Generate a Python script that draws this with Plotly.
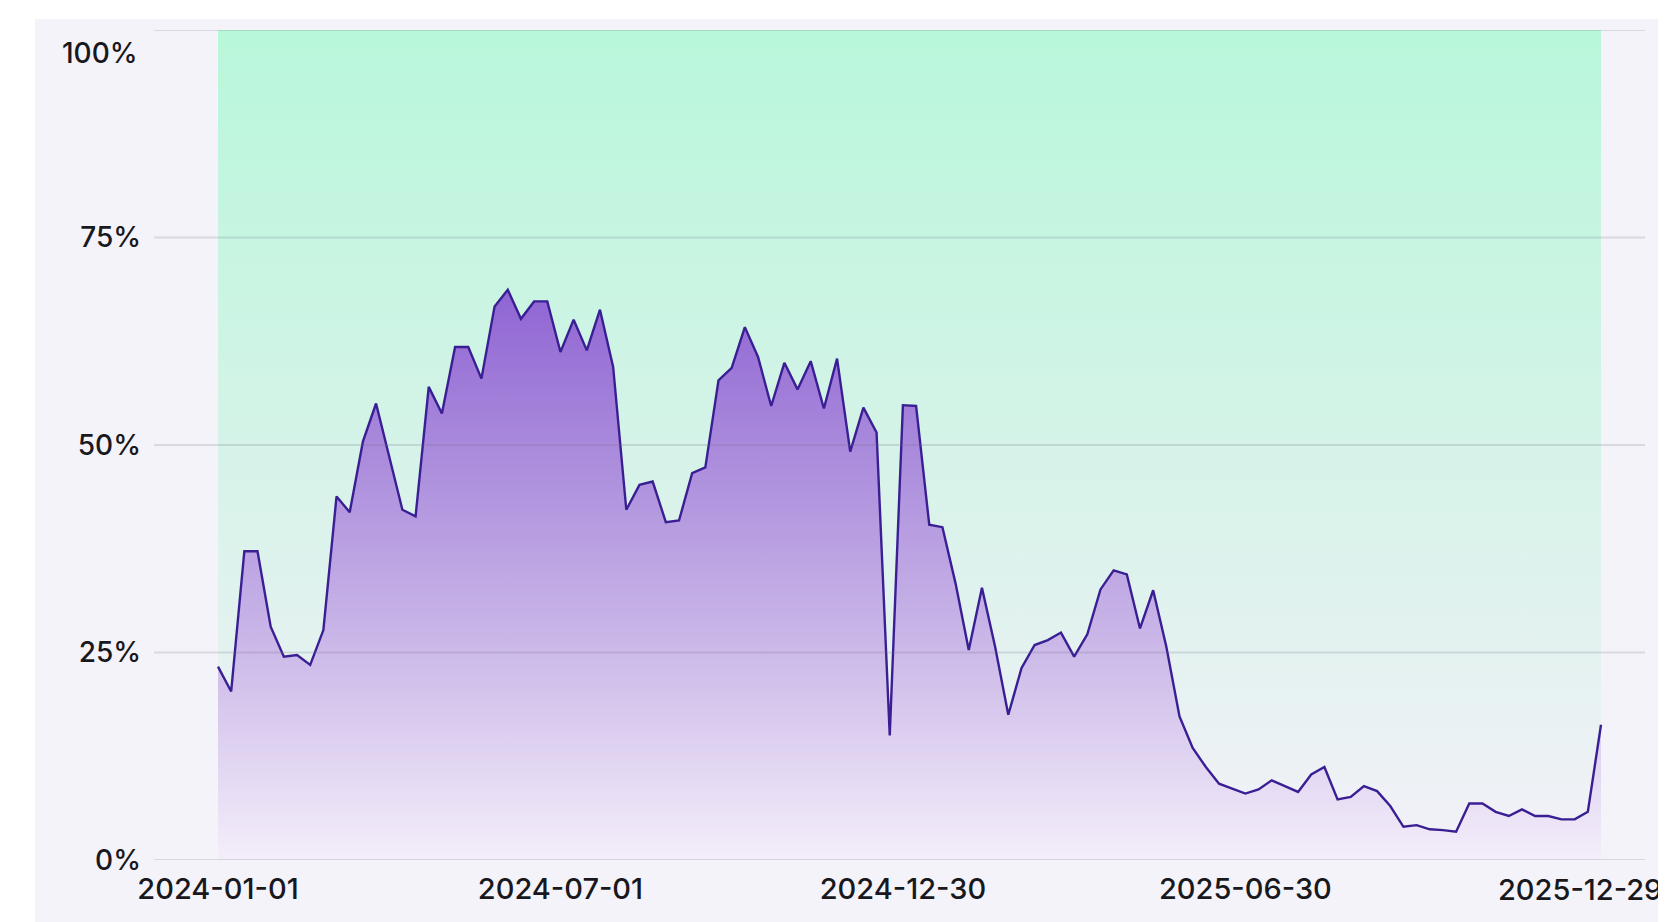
import pandas as pd
import plotly.graph_objects as go

# ---- data (weekly share, %) ----
start_date = "2024-01-01"
share_pct = [
    23.3, 20.3, 37.2, 37.2, 28.1, 24.5, 24.7, 23.5, 27.7, 43.8,
    41.9, 50.4, 55.0, 48.6, 42.2, 41.4, 57.0, 53.8, 61.8, 61.8,
    58.0, 66.7, 68.7, 65.2, 67.3, 67.3, 61.2, 65.1, 61.4, 66.3,
    59.4, 42.2, 45.2, 45.6, 40.7, 40.9, 46.6, 47.3, 57.8, 59.3,
    64.2, 60.6, 54.7, 59.9, 56.7, 60.1, 54.4, 60.4, 49.2, 54.5,
    51.5, 15.0, 54.8, 54.7, 40.4, 40.1, 33.3, 25.3, 32.8, 25.7,
    17.5, 23.1, 25.9, 26.5, 27.4, 24.5, 27.2, 32.6, 34.9, 34.4,
    27.9, 32.5, 25.7, 17.3, 13.5, 11.2, 9.2, 8.6, 8.0, 8.5,
    9.6, 8.9, 8.2, 10.3, 11.2, 7.3, 7.6, 8.9, 8.3, 6.5,
    4.0, 4.2, 3.7, 3.6, 3.4, 6.8, 6.8, 5.8, 5.3, 6.1,
    5.3, 5.3, 4.9, 4.9, 5.8, 16.3,
]
dates = pd.date_range(start_date, periods=len(share_pct), freq="7D")

band_top = [100, 100]
band_dates = [dates[0], dates[-1]]

x_tick_labels = ["2024-01-01", "2024-07-01", "2024-12-30", "2025-06-30", "2025-12-29"]
y_tick_vals = [0, 25, 50, 75, 100]
y_tick_text = ["0%", "25%", "50%", "75%", ""]

# ---- layout geometry (page pixels; the page body has an 8px margin) ----
OFF = 8
W, H = 1666 - OFF, 922 - OFF
plot_left, plot_right = 154 - OFF, 1645 - OFF
plot_top, plot_bottom = 30 - OFF, 860 - OFF
data_left_px, data_right_px = 218 - OFF, 1601 - OFF
panel_left, panel_top = 35 - OFF, 19 - OFF

t0 = dates[0]
t1 = dates[-1]
px_per = (data_right_px - data_left_px) / (t1 - t0).total_seconds()
range_start = t0 - pd.Timedelta(seconds=(data_left_px - plot_left) / px_per)
range_end = t1 + pd.Timedelta(seconds=(plot_right - data_right_px) / px_per)

font_family = "Inter, 'Open Sans', sans-serif"
text_color = "#18181d"
y_font = dict(family=font_family, size=28, color=text_color, weight=500)
x_font = dict(family=font_family, size=29, color=text_color, weight=500)

fig = go.Figure()

# green background band
fig.add_trace(go.Scatter(
    x=band_dates, y=band_top, mode="lines",
    line=dict(width=0, color="rgba(0,0,0,0)"),
    fill="tozeroy",
    fillgradient=dict(type="vertical", start=0, stop=100,
                      colorscale=[[0, "#f3f1f8"], [0.5, "#d5f3e8"], [1, "#b8f7da"]]),
    hoverinfo="skip", showlegend=False,
))

# purple area
fig.add_trace(go.Scatter(
    x=dates, y=share_pct, mode="lines",
    line=dict(width=2.4, color="#3a1f94"),
    fill="tozeroy",
    fillgradient=dict(type="vertical", start=0, stop=70,
                      colorscale=[[0, "#f4eefa"], [0.35, "#cdbbe9"], [0.7, "#aa8bdc"], [1, "#8e62d3"]]),
    showlegend=False,
))

pw = plot_right - plot_left
ph = plot_bottom - plot_top

# lavender panel
fig.add_shape(type="rect", xref="paper", yref="paper", layer="below",
              x0=(panel_left - plot_left) / pw, x1=(W + 5 - plot_left) / pw,
              y0=(plot_bottom - H - 5) / ph, y1=(plot_bottom - panel_top) / ph,
              line=dict(width=0), fillcolor="#f4f3f9")

# gridlines drawn above the filled areas (semi-transparent)
for v in y_tick_vals:
    fig.add_shape(type="line", xref="paper", yref="y", layer="above",
                  x0=0, x1=1, y0=v, y1=v,
                  line=dict(color="rgba(110,110,135,0.2)", width=2))

fig.add_annotation(text="100%", xref="paper", yref="paper",
                   x=0, y=(860 - 53) / 830, xanchor="right", yanchor="middle",
                   xshift=-14, showarrow=False, font=y_font)

# last date label kept fully inside the page, flush with the right edge
x_tick_text = x_tick_labels[:-1] + [""]
fig.add_annotation(text=x_tick_labels[-1], xref="paper", yref="paper",
                   x=(W - 2 - plot_left) / pw, y=0, xanchor="right", yanchor="middle",
                   yshift=-29, showarrow=False, font=x_font)

fig.update_layout(
    width=W, height=H,
    margin=dict(l=plot_left, r=W - plot_right, t=plot_top, b=H - plot_bottom, autoexpand=False),
    paper_bgcolor="white", plot_bgcolor="rgba(0,0,0,0)",
    font=dict(family=font_family, size=28, color=text_color),
    xaxis=dict(
        type="date", range=[range_start, range_end],
        tickvals=[pd.Timestamp(d) for d in x_tick_labels], ticktext=x_tick_text,
        showgrid=False, zeroline=False, showline=False, ticks="",
        ticklabelstandoff=9, automargin=False,
        tickfont=x_font,
    ),
    yaxis=dict(
        range=[0, 100], tickvals=y_tick_vals, ticktext=y_tick_text,
        showgrid=False, zeroline=False, showline=False, ticks="",
        ticklabelstandoff=12, automargin=False,
        tickfont=y_font,
    ),
)

fig.write_html("out.html")
